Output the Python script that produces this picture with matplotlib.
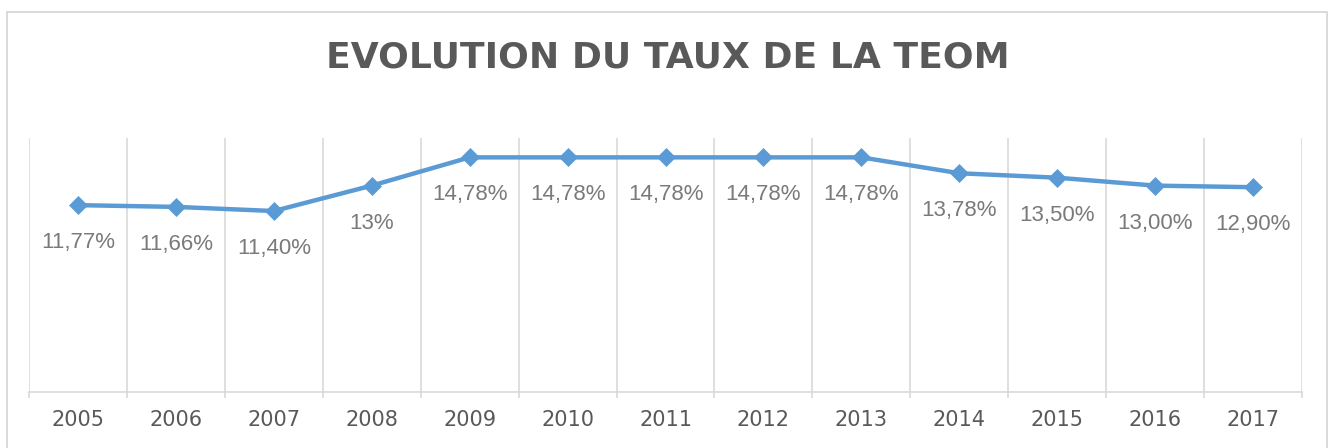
import matplotlib.pyplot as plt
from matplotlib.patches import Rectangle
import numpy as np

# Data
years = ["2005", "2006", "2007", "2008", "2009", "2010", "2011",
         "2012", "2013", "2014", "2015", "2016", "2017"]
taux = [11.77, 11.66, 11.40, 13.00, 14.78, 14.78, 14.78,
        14.78, 14.78, 13.78, 13.50, 13.00, 12.90]
labels = ["11,77%", "11,66%", "11,40%", "13%", "14,78%", "14,78%", "14,78%",
          "14,78%", "14,78%", "13,78%", "13,50%", "13,00%", "12,90%"]

grey = "#d9d9d9"
blue = "#5b9bd5"

fig = plt.figure(figsize=(13.35, 4.48), dpi=100)
ax = fig.add_axes([29 / 1335, 1 - 392 / 448, 1273 / 1335, 254 / 448])

x = np.arange(len(years))
ax.plot(x, taux, color=blue, lw=3.2, marker="D", markersize=9,
        markeredgewidth=0.5, markeredgecolor=blue, zorder=3)

for xi, yi, lab in zip(x, taux, labels):
    ax.annotate(lab, (xi, yi), xytext=(0, -27), textcoords="offset points",
                ha="center", va="center", fontsize=16, color="#7a7a7a",
                family="Liberation Sans")

ax.set_xlim(-0.5, len(years) - 0.5)
ax.set_ylim(0, 16)

# Vertical gridlines between categories
ax.set_xticks(x)
ax.set_xticklabels(years, fontsize=15, color="#595959")
ax.set_xticks(np.arange(-0.5, len(years)), minor=True)
ax.grid(True, which="minor", axis="x", color=grey, lw=1.2)
ax.tick_params(axis="x", which="major", length=0, pad=13)
ax.tick_params(axis="x", which="minor", length=4, width=1.2, color=grey)
ax.set_yticks([])

for side in ["top", "left", "right"]:
    ax.spines[side].set_visible(False)
ax.spines["bottom"].set_color(grey)
ax.spines["bottom"].set_linewidth(1.2)

fig.text(0.5, 1 - 58 / 448, "EVOLUTION DU TAUX DE LA TEOM", ha="center",
         va="center", fontsize=26, fontweight="bold", color="#595959")

# Chart border
fig.patches.append(Rectangle((7 / 1335, -0.1), 1320 / 1335, 1.1 - 12 / 448,
                             transform=fig.transFigure, fill=False,
                             edgecolor=grey, lw=1.4, clip_on=False))

fig.savefig("out.png", dpi=100)
